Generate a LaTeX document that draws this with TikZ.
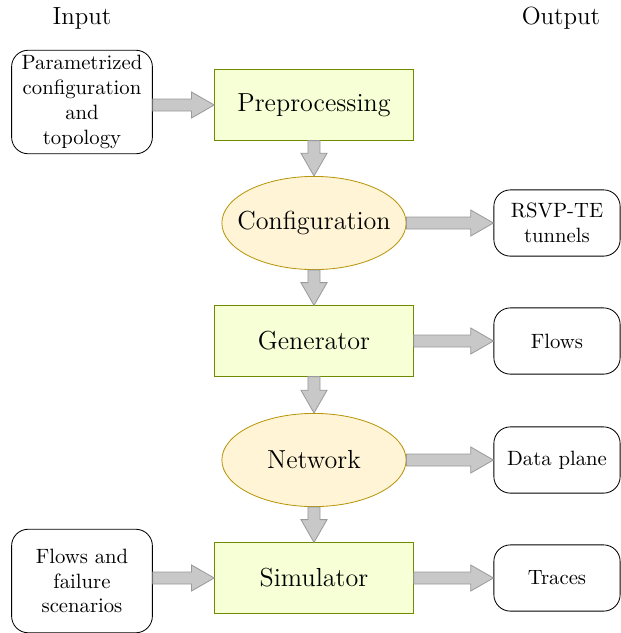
\documentclass[tikz,border=0pt]{standalone}
\usepackage{tikz}
\usetikzlibrary{calc,shapes.geometric}
\definecolor{stepfill}{HTML}{F6FFD6}
\definecolor{stepline}{HTML}{6E8B00}
\definecolor{datafill}{HTML}{FFF5D6}
\definecolor{dataline}{HTML}{B8960B}
\definecolor{arrowfill}{HTML}{C8C8C8}
\definecolor{arrowline}{HTML}{9A9A9A}
\tikzstyle{stage} = [draw=stepline,fill=stepfill,minimum width=96pt,minimum height=34pt,font=\fontsize{12.6}{15}\selectfont]
\tikzstyle{state} = [ellipse,draw=dataline,fill=datafill,minimum width=89pt,minimum height=45pt,inner xsep=-8pt,inner ysep=0pt,font=\fontsize{12.6}{15}\selectfont]
\tikzstyle{io} = [draw,rounded corners=8pt,align=center,inner sep=2pt]
\tikzstyle{fatright} = [draw=arrowline,fill=arrowfill,to path={let \p1=(\tikztostart), \p2=(\tikztotarget) in
  (\x1,\y2+2.9pt) -- (\x2-11pt,\y2+2.9pt) -- (\x2-11pt,\y2+6.3pt) -- (\x2,\y2)
  -- (\x2-11pt,\y2-6.3pt) -- (\x2-11pt,\y2-2.9pt) -- (\x1,\y2-2.9pt) -- cycle}]
\tikzstyle{fatdown} = [draw=arrowline,fill=arrowfill,to path={let \p1=(\tikztostart), \p2=(\tikztotarget) in
  (\x1-2.9pt,\y1) -- (\x1-2.9pt,\y2+11pt) -- (\x1-6.3pt,\y2+11pt) -- (\x1,\y2)
  -- (\x1+6.3pt,\y2+11pt) -- (\x1+2.9pt,\y2+11pt) -- (\x1+2.9pt,\y1) -- cycle}]

\begin{document}
\begin{tikzpicture}[x=0.483pt,y=-0.483pt]
    \useasboundingbox (0,0) rectangle (621,633);

    \node[font=\large] (in) at (82,18) {Input};
    \node[font=\large] (out) at (561,18) {Output};

    \node[io,minimum width=68pt,minimum height=50pt] (par) at (82,102) {Parametrized\\configuration\\and\\topology};
    \node[io,minimum width=68pt,minimum height=50pt] (fail) at (82,581) {Flows and\\failure\\scenarios};

    \node[stage] (pre) at (314,105) {Preprocessing};
    \node[state] (conf) at (314,223) {Configuration};
    \node[stage] (gen) at (314,341) {Generator};
    \node[state] (net) at (314,460) {Network};
    \node[stage] (sim) at (314,578) {Simulator};

    \node[io,minimum width=61pt,minimum height=32pt] (rsvp) at (557,223) {RSVP-TE\\tunnels};
    \node[io,minimum width=61pt,minimum height=32pt] (flows) at (557,341) {Flows};
    \node[io,minimum width=61pt,minimum height=32pt] (plane) at (557,460) {Data plane};
    \node[io,minimum width=61pt,minimum height=32pt] (traces) at (557,578) {Traces};

    \draw[fatright] (par.east) to (pre.west);
    \draw[fatright] (fail.east) to (sim.west);

    \draw[fatdown] (pre.south) to (conf.north);
    \draw[fatdown] (conf.south) to (gen.north);
    \draw[fatdown] (gen.south) to (net.north);
    \draw[fatdown] (net.south) to (sim.north);

    \draw[fatright] (conf.east) to (rsvp.west);
    \draw[fatright] (gen.east) to (flows.west);
    \draw[fatright] (net.east) to (plane.west);
    \draw[fatright] (sim.east) to (traces.west);

\end{tikzpicture}
\end{document}
